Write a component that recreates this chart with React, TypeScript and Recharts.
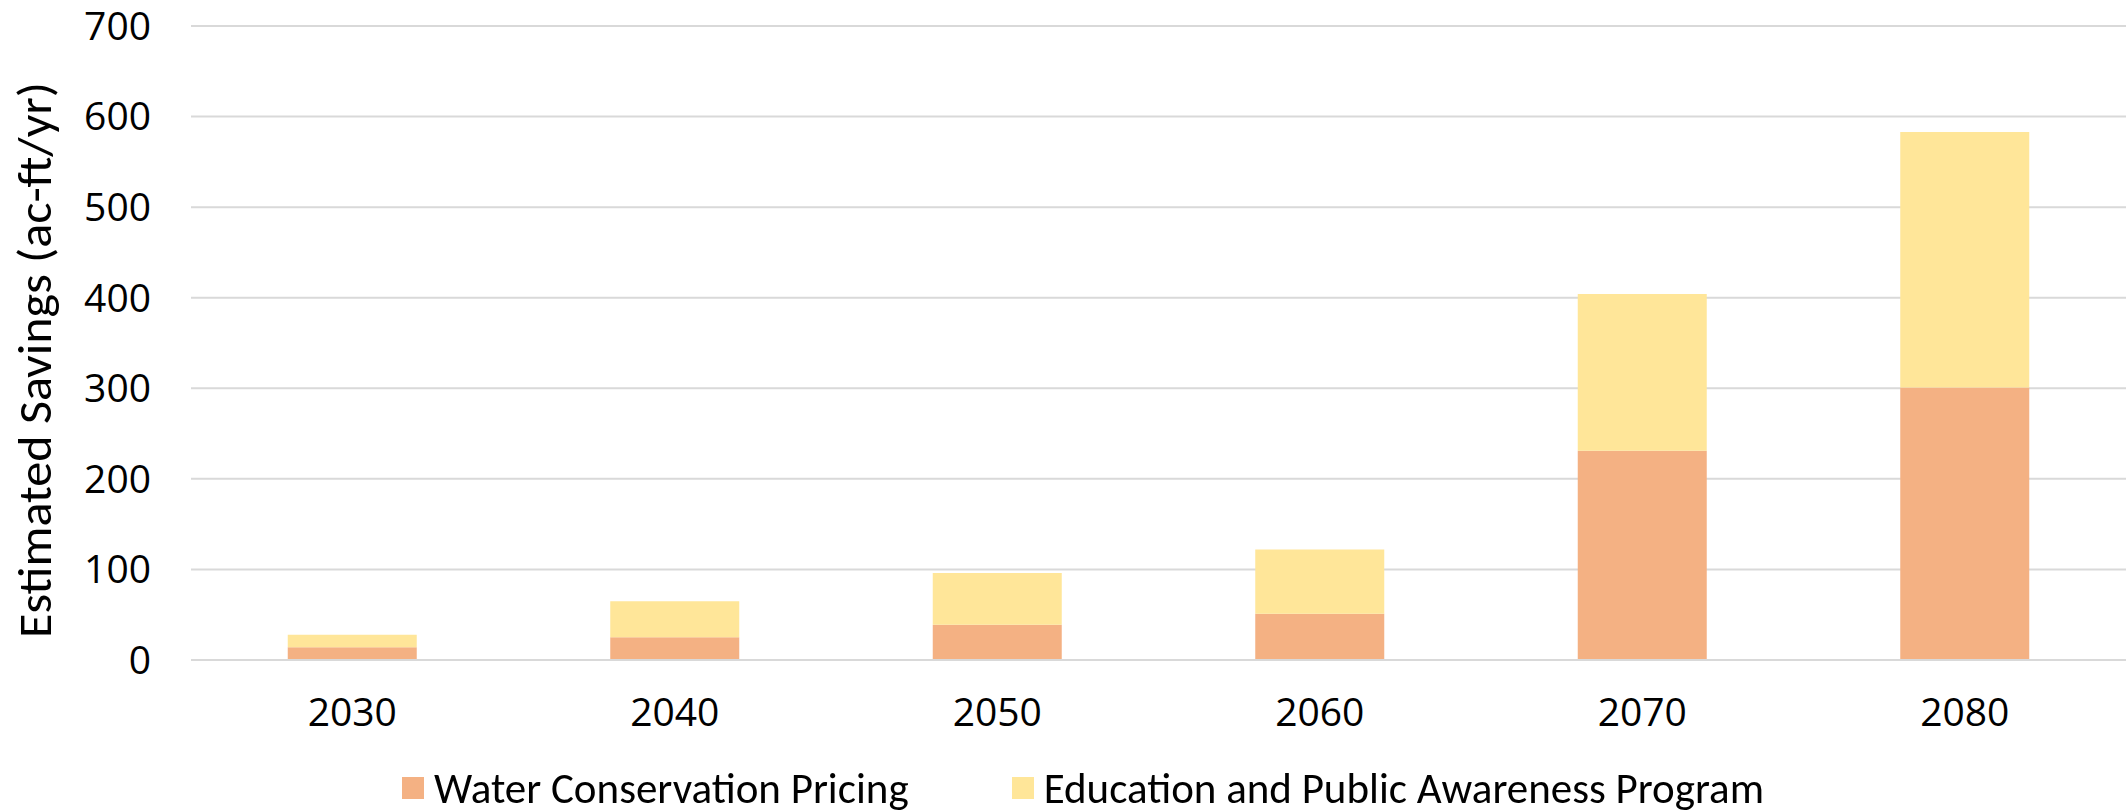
import { BarChart, Bar, XAxis, YAxis, CartesianGrid, Legend } from 'recharts'

const years = ['2030', '2040', '2050', '2060', '2070', '2080']
const pricing = [14, 25, 39, 51, 231, 301]
const education = [14, 40, 57, 71, 173, 282]
const yTicks = [0, 100, 200, 300, 400, 500, 600, 700]

const SERIES = [
    { key: 'pricing', name: 'Water Conservation Pricing', color: '#F4B183' },
    { key: 'education', name: 'Education and Public Awareness Program', color: '#FFE699' },
]

const FONT = 'Carlito, Calibri, Lato, sans-serif'
const TICK_FONT = '"Open Sans", sans-serif'

const data = years.map((year, i) => ({
    year,
    pricing: pricing[i],
    education: education[i],
}))

function LegendContent() {
    return (
        <div style={{
            height: 60, boxSizing: 'border-box', paddingTop: 14, paddingLeft: 40,
            display: 'flex', justifyContent: 'center', alignItems: 'center',
            fontFamily: FONT, fontSize: 43, color: '#000',
        }}>
            {SERIES.map((s, i) => (
                <div key={s.key} style={{ display: 'flex', alignItems: 'center', marginLeft: i > 0 ? 103 : 0 }}>
                    <span style={{ width: 22, height: 22, background: s.color, marginRight: 10, display: 'inline-block' }} />
                    <span>{s.name}</span>
                </div>
            ))}
        </div>
    )
}

function YLabel({ viewBox }: any) {
    const x = viewBox.x + 35
    const y = viewBox.y + viewBox.height / 2 + 17
    return (
        <text x={x} y={y} transform={`rotate(-90, ${x}, ${y})`} textAnchor="middle" dominantBaseline="central"
            textLength={556} lengthAdjust="spacingAndGlyphs"
            style={{ fontSize: 47, fill: '#000', fontFamily: FONT }}>
            Estimated Savings (ac-ft/yr)
        </text>
    )
}

export default function App() {
    return (
        <div style={{ position: 'fixed', left: 0, top: 0, width: 2126, height: 811, background: '#fff' }}>
            <BarChart width={2126} height={811} data={data} barCategoryGap="30%"
                margin={{ top: 26, right: 0, bottom: 0, left: 0 }}>
                <CartesianGrid vertical={false} stroke="#d9d9d9" strokeWidth={2} />
                <XAxis
                    dataKey="year"
                    height={91}
                    axisLine={{ stroke: '#d9d9d9', strokeWidth: 2 }}
                    tickLine={false}
                    tickSize={0}
                    tickMargin={38}
                    tick={{ fontSize: 39, fill: '#000', fontFamily: TICK_FONT }}
                />
                <YAxis
                    width={191}
                    domain={[0, 700]}
                    ticks={yTicks}
                    axisLine={false}
                    tickLine={false}
                    tickSize={0}
                    tickMargin={40}
                    tick={{ fontSize: 39, fill: '#000', fontFamily: TICK_FONT }}
                    label={<YLabel />}
                />
                <Legend verticalAlign="bottom" content={<LegendContent />} />
                {SERIES.map(s => (
                    <Bar key={s.key} dataKey={s.key} name={s.name} stackId="a" fill={s.color} isAnimationActive={false} />
                ))}
            </BarChart>
        </div>
    )
}
